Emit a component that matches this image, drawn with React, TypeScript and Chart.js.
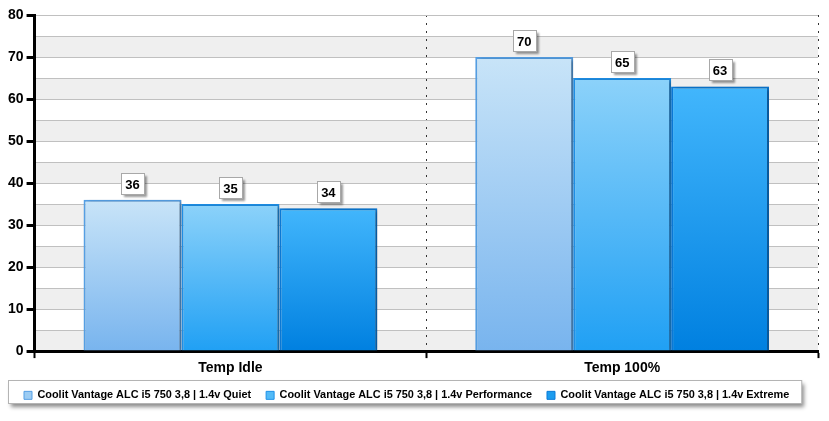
import { useEffect, useRef } from 'react';
import { Chart, registerables } from 'chart.js';

Chart.register(...registerables);

const categories = ['Temp Idle', 'Temp 100%'];
const seriesLabels = [
  'Coolit Vantage ALC i5 750 3,8 | 1.4v Quiet',
  'Coolit Vantage ALC i5 750 3,8 | 1.4v Performance',
  'Coolit Vantage ALC i5 750 3,8 | 1.4v Extreme',
];
const quietValues = [36, 70];
const performanceValues = [35, 65];
const extremeValues = [34, 63];
const yMin = 0;
const yMax = 80;
const yLabelStep = 10;

const seriesValues = [quietValues, performanceValues, extremeValues];
const gradTop = ['#c8e4f8', '#8cd2fa', '#42b6fc'];
const gradBottom = ['#78b4ee', '#20a0f4', '#0080e0'];
const gradMid = ['#9cccf3', '#52baf7', '#1c9cee'];
const borderColors = ['#559fe4', '#1e90e8', '#0a7ad8'];
const FONT = 'Arial, "Liberation Sans", sans-serif';

function gradientFor(i: number) {
  return (c: any) => {
    const chart = c.chart;
    const area = chart.chartArea;
    const y = chart.scales && chart.scales.y;
    if (!area || !y || c.type !== 'data' || typeof c.raw !== 'number') return gradMid[i];
    const top = y.getPixelForValue(c.raw);
    const bottom = y.getPixelForValue(0);
    if (!isFinite(top) || !isFinite(bottom) || bottom - top < 1) return gradMid[i];
    const g = chart.ctx.createLinearGradient(0, top, 0, bottom);
    g.addColorStop(0, gradTop[i]);
    g.addColorStop(1, gradBottom[i]);
    return g;
  };
}

const LEGEND_SHIFT_X = 4;
const LEGEND_SHIFT_Y = -4;

const legendShiftPlugin = {
  id: 'legendShiftPlugin',
  afterLayout(chart: any) {
    const lg = chart.legend;
    if (!lg) return;
    lg.left += LEGEND_SHIFT_X;
    lg.right += LEGEND_SHIFT_X;
    lg.top += LEGEND_SHIFT_Y;
    lg.bottom += LEGEND_SHIFT_Y;
    (lg.legendHitBoxes || []).forEach((h: any) => {
      h.left += LEGEND_SHIFT_X;
      h.top += LEGEND_SHIFT_Y;
    });
  },
};

const bgPlugin = {
  id: 'bgPlugin',
  beforeDraw(chart: any) {
    const { ctx, chartArea: a, scales } = chart;
    const y = scales.y;
    if (!a || !y) return;
    ctx.save();
    ctx.fillStyle = '#efefef';
    for (let v = yMin; v < yMax; v += yLabelStep) {
      const t = y.getPixelForValue(v + yLabelStep / 2);
      const b = y.getPixelForValue(v);
      ctx.fillRect(a.left, t, a.right - a.left, b - t);
    }
    ctx.restore();

    const lg = chart.legend;
    if (lg && lg.legendHitBoxes && lg.legendHitBoxes.length) {
      const hb = lg.legendHitBoxes;
      const left = Math.min(...hb.map((h: any) => h.left)) - 16;
      const right = Math.max(...hb.map((h: any) => h.left + h.width)) + 12;
      const cy = hb[0].top + hb[0].height / 2;
      const top = Math.round(cy - 11.5) + 0.5;
      const h = 23;
      ctx.save();
      ctx.shadowColor = 'rgba(0,0,0,0.45)';
      ctx.shadowBlur = 4;
      ctx.shadowOffsetX = 2;
      ctx.shadowOffsetY = 3;
      ctx.fillStyle = '#ffffff';
      ctx.fillRect(Math.round(left) + 0.5, top, right - left, h);
      ctx.restore();
      ctx.save();
      ctx.strokeStyle = '#b4b4b4';
      ctx.lineWidth = 1;
      ctx.strokeRect(Math.round(left) + 0.5, top, right - left, h);
      ctx.restore();
    }
  },
};

const shadowPlugin = {
  id: 'shadowPlugin',
  beforeDatasetsDraw(chart: any) {
    const ctx = chart.ctx;
    ctx.save();
    ctx.shadowColor = 'rgba(0,0,0,0.35)';
    ctx.shadowBlur = 4;
    ctx.shadowOffsetX = 3;
    ctx.shadowOffsetY = 1;
  },
  afterDatasetsDraw(chart: any) {
    chart.ctx.restore();
  },
};

const valueLabelPlugin = {
  id: 'valueLabelPlugin',
  afterDraw(chart: any) {
    const ctx = chart.ctx;
    chart.data.datasets.forEach((ds: any, di: number) => {
      const meta = chart.getDatasetMeta(di);
      meta.data.forEach((el: any, j: number) => {
        const text = String(ds.data[j]);
        ctx.save();
        ctx.font = `bold 13px ${FONT}`;
        const w = Math.round(ctx.measureText(text).width + 9);
        const h = 21;
        const x = Math.round(el.x - w / 2) + 0.5;
        const bottom = Math.round(el.y - 6) + 0.5;
        const top = bottom - h;
        ctx.save();
        ctx.shadowColor = 'rgba(0,0,0,0.4)';
        ctx.shadowBlur = 2;
        ctx.shadowOffsetX = 2;
        ctx.shadowOffsetY = 2;
        ctx.fillStyle = '#ffffff';
        ctx.fillRect(x, top, w, h);
        ctx.restore();
        ctx.strokeStyle = '#a8a8a8';
        ctx.lineWidth = 1;
        ctx.strokeRect(x, top, w, h);
        ctx.fillStyle = '#000000';
        ctx.textAlign = 'center';
        ctx.textBaseline = 'middle';
        ctx.fillText(text, el.x, top + h / 2 + 1);
        ctx.restore();
      });
    });
  },
};

export default function App() {
  const ref = useRef<HTMLCanvasElement | null>(null);

  useEffect(() => {
    if (!ref.current) return;
    const chart = new Chart(ref.current, {
      type: 'bar',
      data: {
        labels: categories,
        datasets: seriesLabels.map((label, i) => ({
          label,
          data: seriesValues[i],
          backgroundColor: gradientFor(i),
          borderColor: borderColors[i],
          borderWidth: 2,
          categoryPercentage: 0.75,
          barPercentage: 1,
        })),
      },
      options: {
        animation: false,
        responsive: true,
        maintainAspectRatio: false,
        layout: { padding: { left: 5, right: 11, top: 15, bottom: 6.2 } },
        plugins: {
          tooltip: { enabled: false },
          legend: {
            position: 'bottom',
            align: 'start',
            onClick: () => {},
            labels: {
              boxWidth: 8,
              boxHeight: 8,
              padding: 15,
              color: '#000',
              font: { family: FONT, size: 10.9, weight: 'bold' },
              generateLabels: () =>
                seriesLabels.map((t, i) => ({
                  text: t,
                  fillStyle: gradMid[i],
                  strokeStyle: borderColors[i],
                  lineWidth: 1,
                  hidden: false,
                  datasetIndex: i,
                  fontColor: '#000',
                })),
            },
          },
        },
        scales: {
          x: {
            grid: {
              offset: true,
              color: '#333333',
              lineWidth: 1,
              tickLength: 7,
              tickWidth: 2,
              tickColor: '#000',
            },
            border: { color: '#000', width: 3, dash: [2, 6] },
            ticks: { color: '#000', font: { family: FONT, size: 14, weight: 'bold' }, padding: 2 },
          },
          y: {
            min: yMin,
            max: yMax,
            ticks: {
              stepSize: yLabelStep / 2,
              color: '#000',
              font: { family: FONT, size: 14, weight: 'bold' },
              padding: 3,
              callback: (v: any) => (Number(v) % yLabelStep === 0 ? String(v) : ''),
            },
            grid: {
              color: '#c0c0c0',
              lineWidth: 1,
              tickLength: 8,
              tickWidth: 3,
              tickColor: (c: any) =>
                c.tick && c.tick.value % yLabelStep === 0 ? '#000' : 'rgba(0,0,0,0)',
            },
            border: { color: '#000', width: 3 },
          },
        },
      },
      plugins: [legendShiftPlugin, bgPlugin, shadowPlugin, valueLabelPlugin],
    } as any);
    return () => chart.destroy();
  }, []);

  return (
    <div style={{ position: 'absolute', left: 0, top: 0, width: 829, height: 421, background: '#fff' }}>
      <canvas ref={ref} />
    </div>
  );
}
